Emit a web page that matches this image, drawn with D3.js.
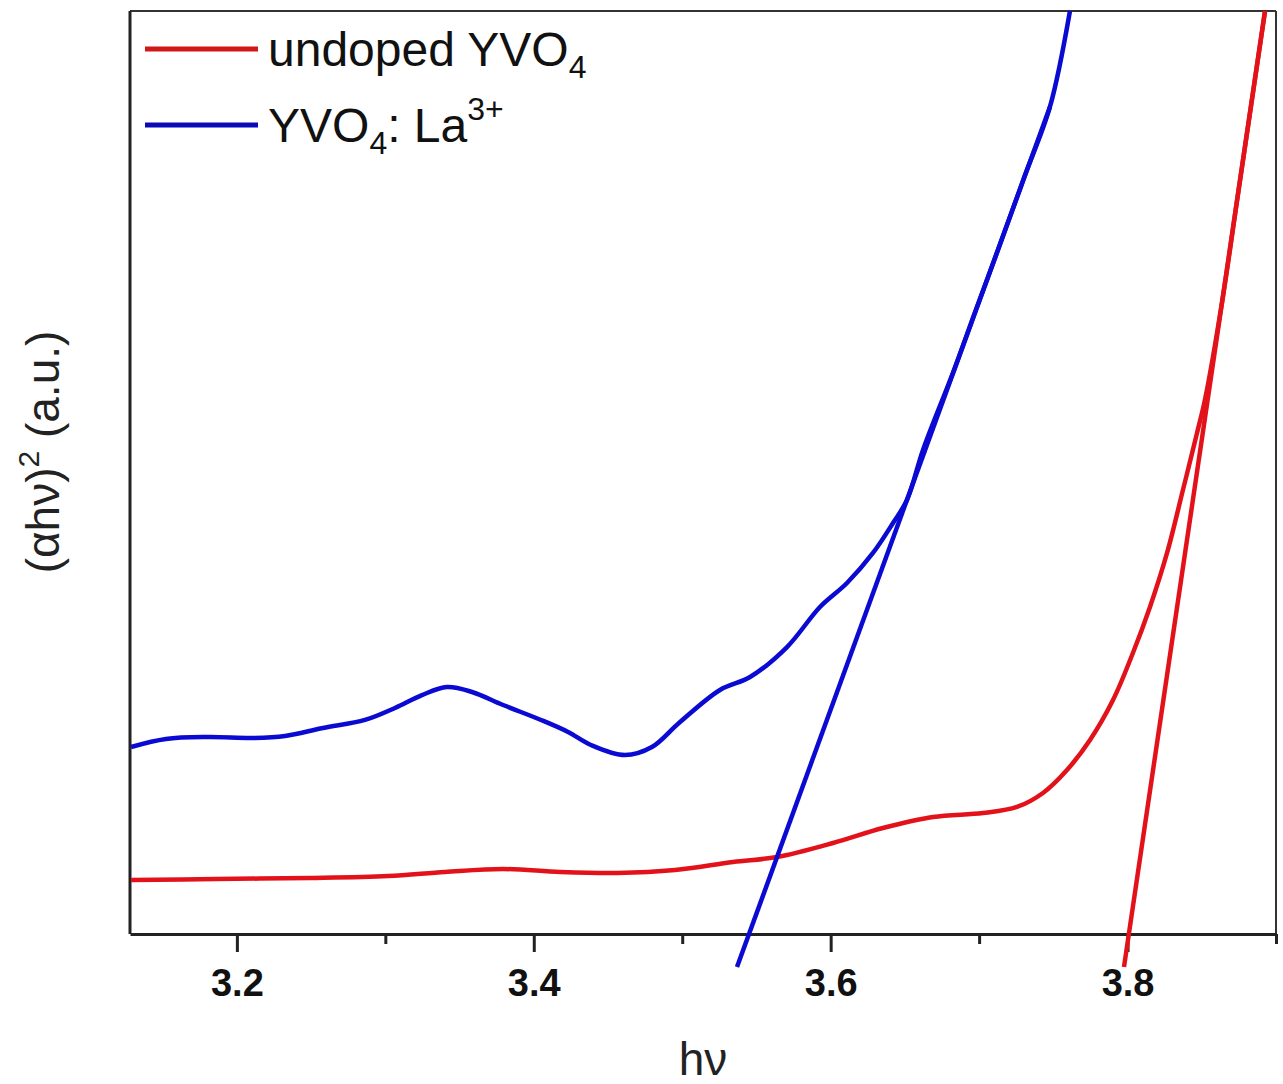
<!DOCTYPE html>
<html><head><meta charset="utf-8">
<script src="https://cdn.jsdelivr.net/npm/d3@7"></script>
<style>body{margin:0;background:#fff}svg{display:block}</style>
</head><body>
<script>
// ---- data (y in arbitrary units 0..100) ----
const undopedX = [3.1287,3.1859,3.2499,3.3018,3.3402,3.3793,3.4177,3.4561,3.4951,3.5342,3.5638,3.6016,3.6352,3.6689,3.7026,3.7255,3.7430,3.7592,3.7747,3.7902,3.8036,3.8151,3.8266,3.8373,3.8468,3.8521,3.8639,3.8738,3.8926];
const undopedY = [5.85,5.96,6.07,6.28,6.72,7.04,6.72,6.61,6.93,7.80,8.34,9.86,11.48,12.68,13.11,13.76,15.28,17.77,21.02,25.35,30.44,35.43,41.28,48.10,54.28,57.85,68.69,79.52,100];
const dopedX = [3.1287,3.1522,3.1805,3.2115,3.2324,3.2580,3.2863,3.3065,3.3247,3.3415,3.3584,3.3793,3.4049,3.4231,3.4385,3.4614,3.4796,3.4978,3.5254,3.5457,3.5706,3.5928,3.6110,3.6285,3.6420,3.6514,3.6622,3.6831,3.6978,3.7127,3.7302,3.7477,3.7612];
const dopedY = [20.26,21.13,21.34,21.24,21.45,22.32,23.19,24.49,25.89,26.76,26.22,24.81,23.19,21.89,20.48,19.39,20.26,22.86,26.44,27.84,31.09,35.43,38.03,41.28,44.53,47.02,52.44,61.10,67.6,74.10,81.9,89.60,100];
const undopedFitX = [3.7976,3.8926];
const undopedFitY = [-3.58,100];
const dopedFitX = [3.5369,3.7477];
const dopedFitY = [-3.58,89.6];
const majorTicks = [3.2,3.4,3.6,3.8];
const minorTicks = [3.3,3.5,3.7,3.9];
const xDomain = [3.128,3.9];
const yDomain = [0,100];

const W=1283,H=1084;
const L=130,R=1276,T=11,B=934;
const RED="#e3121a", BLUE="#0a0ad2";

const svg=d3.select("body").append("svg").attr("width",W).attr("height",H);
const x=d3.scaleLinear().domain(xDomain).range([L,R]);
const y=d3.scaleLinear().domain(yDomain).range([B,T]);

// frame
svg.append("line").attr("x1",L).attr("x2",R).attr("y1",T).attr("y2",T).attr("stroke","#333").attr("stroke-width",2);
svg.append("line").attr("x1",R).attr("x2",R).attr("y1",T).attr("y2",B).attr("stroke","#333").attr("stroke-width",2);
svg.append("line").attr("x1",L).attr("x2",L).attr("y1",T).attr("y2",B).attr("stroke","#222").attr("stroke-width",3);

// x axis
const ax=svg.append("g").attr("transform",`translate(0,${B})`)
  .call(d3.axisBottom(x).tickValues(majorTicks).tickFormat(d3.format(".1f")).tickSize(18).tickSizeOuter(0));
ax.select(".domain").attr("stroke","#222").attr("stroke-width",3);
ax.selectAll(".tick line").attr("stroke","#222").attr("stroke-width",3);
ax.selectAll(".tick text").attr("font-family","Liberation Sans, Arial, sans-serif").attr("font-weight","bold")
  .attr("font-size",38).attr("fill","#111").attr("dy",0).attr("y",62);
const axm=svg.append("g").attr("transform",`translate(0,${B})`)
  .call(d3.axisBottom(x).tickValues(minorTicks).tickFormat("").tickSize(10).tickSizeOuter(0));
axm.select(".domain").remove();
axm.selectAll(".tick line").attr("stroke","#222").attr("stroke-width",3);

const line=d3.line().x(d=>x(d[0])).y(d=>y(d[1])).curve(d3.curveCatmullRom.alpha(0.5));
const straight=d3.line().x(d=>x(d[0])).y(d=>y(d[1]));
const zip=(a,b)=>a.map((v,i)=>[v,b[i]]);

svg.append("path").datum(zip(undopedX,undopedY)).attr("d",line).attr("fill","none").attr("stroke",RED).attr("stroke-width",4.5);
svg.append("path").datum(zip(dopedX,dopedY)).attr("d",line).attr("fill","none").attr("stroke",BLUE).attr("stroke-width",4.5);
svg.append("path").datum(zip(undopedFitX,undopedFitY)).attr("d",straight).attr("fill","none").attr("stroke",RED).attr("stroke-width",4.5);
svg.append("path").datum(zip(dopedFitX,dopedFitY)).attr("d",straight).attr("fill","none").attr("stroke",BLUE).attr("stroke-width",4.5);

// legend
const FF="Liberation Sans, Arial, sans-serif";
const leg=[{c:"#d01818",yy:49,parts:[["undoped YVO",0],["4",1]]},{c:"#0a0ab8",yy:125,parts:[["YVO",0],["4",1],[": La",-1],["3+",2]]}];
leg.forEach(l=>{
  svg.append("line").attr("x1",145).attr("x2",258).attr("y1",l.yy).attr("y2",l.yy).attr("stroke",l.c).attr("stroke-width",5);
  const t=svg.append("text").attr("x",268).attr("y",l.yy+17).attr("font-family",FF).attr("font-size",48).attr("fill","#111");
  let shift=0;
  l.parts.forEach(p=>{
    const ts=t.append("tspan").text(p[0]);
    if(p[1]===1){ts.attr("font-size",32).attr("dy",12);shift=12;}
    else if(p[1]===2){ts.attr("font-size",32).attr("dy",-22);}
    else if(p[1]===-1){ts.attr("dy",-shift);shift=0;}
  });
});

// axis titles
svg.append("text").attr("x",703).attr("y",1075).attr("text-anchor","middle").attr("font-family",FF).attr("font-size",46).attr("fill","#222").text("hν");
const yt=svg.append("text").attr("transform","translate(59,452) rotate(-90)").attr("text-anchor","middle").attr("font-family",FF).attr("font-size",46).attr("fill","#222");
yt.append("tspan").text("(αhν)");
yt.append("tspan").text("2").attr("font-size",30).attr("dy",-20);
yt.append("tspan").text(" (a.u.)").attr("dy",20);
</script>
</body></html>
